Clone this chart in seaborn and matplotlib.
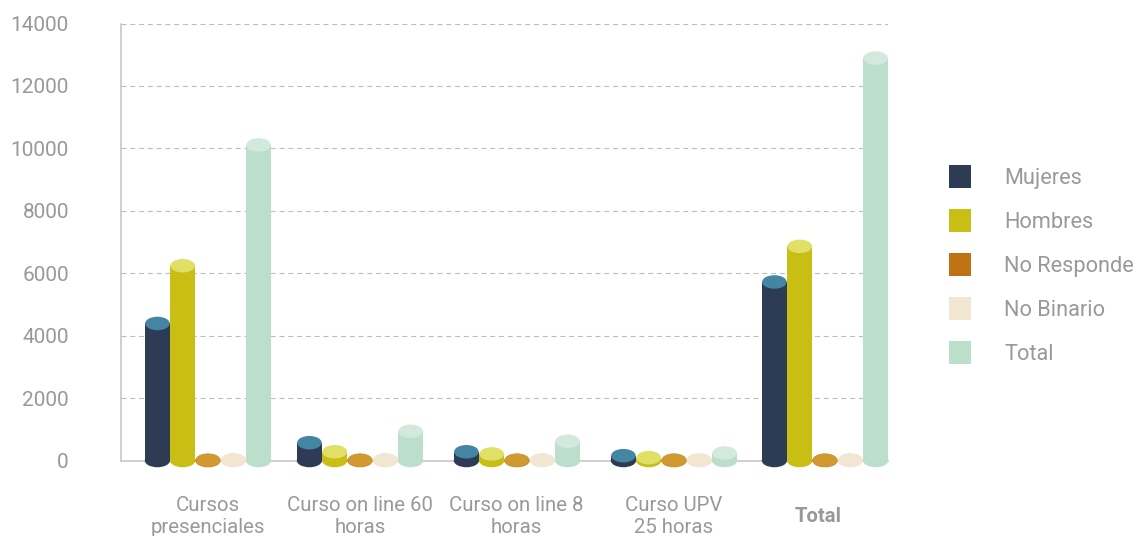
import matplotlib
matplotlib.use('Agg')
import matplotlib.pyplot as plt
from matplotlib.patches import Ellipse, Patch
import pandas as pd
import seaborn as sns

# Values
categories = ['Cursos\npresenciales', 'Curso on line 60\nhoras', 'Curso on line 8\nhoras', 'Curso UPV\n25 horas', 'Total']
mujeres = [4390, 570, 280, 155, 5720]
hombres = [6240, 280, 210, 90, 6860]
no_responde = [10, 10, 10, 10, 10]
no_binario = [20, 20, 20, 20, 20]
total = [10110, 935, 615, 240, 12890]
series_names = ['Mujeres', 'Hombres', 'No Responde', 'No Binario', 'Total']
y_ticks = [0, 2000, 4000, 6000, 8000, 10000, 12000, 14000]

side_colors = ['#2E3B55', '#C9BE14', '#BE7213', '#F1E6D2', '#BCDFCB']
top_colors = ['#4485A3', '#E0E066', '#D09A30', '#F1E6D2', '#D3E9DD']

W, H = 1138, 536
LEFT, RIGHT, TOP, BOTTOM = 121, 888, 23.5, 460.5
GREY = '#999999'
LINE = '#c4c4c4'

sns.set_style('white')
plt.rcParams['font.family'] = ['Roboto', 'DejaVu Sans']

df = pd.DataFrame({
    'curso': categories * 5,
    'serie': [s for s in series_names for _ in categories],
    'valor': mujeres + hombres + no_responde + no_binario + total,
})

fig = plt.figure(figsize=(W / 100, H / 100), dpi=100)
ax = fig.add_axes([LEFT / W, 1 - BOTTOM / H, (RIGHT - LEFT) / W, (BOTTOM - TOP) / H])

sns.barplot(data=df, x='curso', y='valor', hue='serie', order=categories, hue_order=series_names,
            palette=side_colors, width=0.82, gap=0, saturation=1, legend=False, ax=ax)

# pixel <-> data conversion for x, group centre 0 sits at 208 px and groups are 154.25 px apart
px_per_group = 154.25
ax.set_xlim((LEFT - 208) / px_per_group, (RIGHT - 208) / px_per_group)
ax.set_ylim(0, 14000)
y_per_px = 14000 / (BOTTOM - TOP)
group_nudge = [0, -2.25, 0.5, 3.25, 0]

# cylinders: side is the seaborn bar, caps are ellipses on top and bottom
ell_h = 13.5 * y_per_px
for i, cont in enumerate(ax.containers):
    for j, bar in enumerate(cont):
        bar.set_x(bar.get_x() + group_nudge[j] / px_per_group)
        bar.set_linewidth(0)
        bar.set_zorder(3 + i * 0.1)
        bar.set_clip_on(False)
        cx = bar.get_x() + bar.get_width() / 2
        bw = bar.get_width()
        ax.add_patch(Ellipse((cx, 0), bw, ell_h, fc=side_colors[i], lw=0, zorder=3 + i * 0.1, clip_on=False))
        ax.add_patch(Ellipse((cx, bar.get_height()), bw * 0.97, ell_h, fc=top_colors[i], lw=0,
                             zorder=3.05 + i * 0.1, clip_on=False))

ax.yaxis.grid(True, color='#bdbdbd', lw=0.8, linestyle=(0, (4.5, 3.4)))
ax.xaxis.grid(False)
ax.set_axisbelow(True)
for name in ['top', 'right']:
    ax.spines[name].set_visible(False)
for name in ['left', 'bottom']:
    ax.spines[name].set_color(LINE)
    ax.spines[name].set_linewidth(1.1)
    ax.spines[name].set_zorder(1)

ax.set_xlabel('')
ax.set_ylabel('')
ax.set_yticks(y_ticks)
ax.set_yticklabels([str(v) for v in y_ticks])
label_px = [208, 360, 516, 674, 818]
ax.set_xticks([(p - 208) / px_per_group for p in label_px])
ax.set_xticklabels(categories)
ax.tick_params(axis='y', length=0, pad=37.5, labelsize=15, labelcolor=GREY)
ax.tick_params(axis='x', length=0, pad=40.5, labelsize=14.7, labelcolor=GREY)
for lab in ax.get_xticklabels():
    lab.set_va('center')
    lab.set_linespacing(1.22)
for lab in ax.get_yticklabels():
    lab.set_va('center_baseline')
ax.get_xticklabels()[-1].set_fontweight('bold')

handles = [Patch(fc=c, lw=0, label=n) for c, n in zip(side_colors, series_names)]
fs = 15.7
fs_px = fs * 100 / 72
leg = ax.legend(handles=handles, loc='center left', bbox_to_anchor=(949 / W, 1 - 265 / H),
                bbox_transform=fig.transFigure, frameon=False, fontsize=fs, borderaxespad=0, borderpad=0,
                handlelength=22 / fs_px, handleheight=1.25, handletextpad=33 / fs_px,
                labelspacing=(42.1 - 22) / fs_px, labelcolor=GREY)

fig.savefig('out.png', dpi=100, facecolor='white')
